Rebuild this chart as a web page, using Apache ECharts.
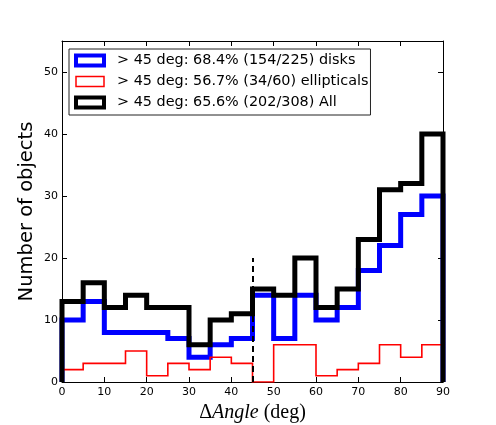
<!DOCTYPE html>
<html><head><meta charset="utf-8">
<script src="https://cdn.jsdelivr.net/npm/echarts@6/dist/echarts.min.js"></script>
<style>html,body{margin:0;padding:0;background:#fff}#c{width:496px;height:425px}</style>
</head><body><div id="c"></div>
<script>
const binEdges = [0,5,10,15,20,25,30,35,40,45,50,55,60,65,70,75,80,85,90];
const disks =       [10,13,8,8,8,7,4,6,7,14,7,14,10,12,18,22,27,30];
const ellipticals = [2,3,3,5,1,3,2,4,3,0,6,6,1,2,3,6,4,6];
const allObjects =  [13,16,12,14,12,12,6,10,11,15,14,20,12,15,23,31,32,40];
const seriesNames = ['> 45 deg: 68.4% (154/225) disks','> 45 deg: 56.7% (34/60) ellipticals','> 45 deg: 65.6% (202/308) All'];
const xTicks = [0,10,20,30,40,50,60,70,80,90];
const yTicks = [0,10,20,30,40,50];
const dividerX = [45];
const dividerY = [0,20];

function stepPoints(vals){
  const pts=[[binEdges[0],0]];
  vals.forEach((v,i)=>{pts.push([binEdges[i],v]);pts.push([binEdges[i+1],v]);});
  pts.push([binEdges[binEdges.length-1],0]);
  return pts;
}
const colors=['#0000ff','#ff0000','#000000'];
const widths=[5,1.6,5];
const legendBorder=[4,1.5,4];
const chart=echarts.init(document.getElementById('c'));
const axisCommon={
  axisLine:{show:true,onZero:false,lineStyle:{color:'#000',width:1}},
  splitLine:{show:false}
};
chart.setOption({
  animation:false,
  grid:{left:62,right:53,top:41,bottom:43,containLabel:false,outerBoundsMode:'none'},
  legend:{
    orient:'vertical',left:69,top:49,padding:[4,2,5,5],
    itemWidth:28,itemHeight:10,itemGap:6,
    backgroundColor:'#fff',borderColor:'#222',borderWidth:1,borderRadius:0,
    textStyle:{fontFamily:'DejaVu Sans',fontSize:14.4,color:'#000',lineHeight:15,padding:[0,0,0,8]},
    data:seriesNames.map((n,i)=>({name:n,icon:'rect',itemStyle:{color:'#fff',borderColor:colors[i],borderWidth:legendBorder[i]}}))
  },
  xAxis:[
    Object.assign({type:'value',min:0,max:90,interval:10,position:'bottom',
      name:'{a|Δ}{b|Angle}{a| (deg)}',nameLocation:'middle',nameGap:21,
      nameTextStyle:{rich:{a:{fontFamily:'Liberation Serif',fontSize:20,color:'#000'},b:{fontFamily:'Liberation Serif',fontSize:20,fontStyle:'italic',color:'#000'}}},
      axisTick:{show:true,inside:true,length:5,lineStyle:{color:'#000'},customValues:xTicks},
      axisLabel:{fontFamily:'DejaVu Sans',fontSize:11,color:'#000',margin:5,customValues:xTicks}},axisCommon),
    Object.assign({type:'value',min:0,max:90,interval:10,position:'top',
      axisTick:{show:true,inside:true,length:5,lineStyle:{color:'#000'},customValues:xTicks},
      axisLabel:{show:false}},axisCommon)
  ],
  yAxis:[
    Object.assign({type:'value',min:0,max:55,interval:10,position:'left',
      name:'Number of objects',nameLocation:'middle',nameGap:25,nameMoveOverlap:false,
      nameTextStyle:{fontFamily:'DejaVu Sans',fontSize:19.5,color:'#000'},
      axisTick:{show:true,inside:true,length:5,lineStyle:{color:'#000'},customValues:yTicks},
      axisLabel:{fontFamily:'DejaVu Sans',fontSize:11,color:'#000',margin:4,customValues:yTicks}},axisCommon),
    Object.assign({type:'value',min:0,max:55,interval:10,position:'right',
      axisTick:{show:true,inside:true,length:5,lineStyle:{color:'#000'},customValues:yTicks},
      axisLabel:{show:false}},axisCommon)
  ],
  series:[disks,ellipticals,allObjects].map((vals,i)=>({
    name:seriesNames[i],type:'line',data:stepPoints(vals),symbol:'none',showSymbol:false,
    clip:true,z:2+i,
    lineStyle:{color:colors[i],width:widths[i],join:'miter',cap:'butt'},
    itemStyle:{color:'#fff',borderColor:colors[i],borderWidth:legendBorder[i]},
    markLine: i===2 ? {silent:true,symbol:'none',label:{show:false},
      lineStyle:{color:'#000',width:2,type:[6,4]},
      data:[[{coord:[dividerX[0],dividerY[0]]},{coord:[dividerX[0],dividerY[1]]}]]} : undefined
  }))
});
</script></body></html>
